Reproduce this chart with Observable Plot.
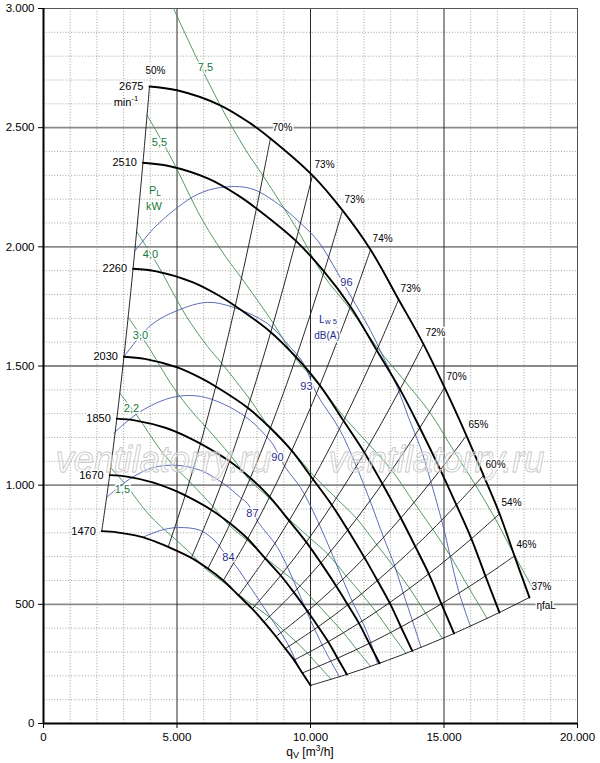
<!DOCTYPE html>
<html>
<head>
<meta charset="utf-8">
<script src="https://cdn.jsdelivr.net/npm/d3@7"></script>
<script src="https://cdn.jsdelivr.net/npm/@observablehq/plot@0.6"></script>
<style>
  html, body { margin: 0; padding: 0; background: #fff; }
</style>
</head>
<body>
<div id="chart"></div>
<script>
// ---------- axes ----------
const qTicks = [0, 5000, 10000, 15000, 20000];
const pTicks = [0, 500, 1000, 1500, 2000, 2500, 3000];

// ---------- speed curves (rpm), points on each efficiency line ----------
const speeds = [1470, 1670, 1850, 2030, 2260, 2510, 2675];
const effLabels = ["50%", "", "", "", "70%", "73%", "73%", "74%", "73%", "72%", "70%", "65%", "60%", "54%", "46%", "37%"];

const q2675 = [3970, 5000, 6600, 7750, 8500, 10075, 11200, 12250, 13300, 14230, 15020, 15840, 16480, 17080, 17640, 18200];
const p2675 = [2673, 2657, 2595, 2518, 2455, 2300, 2153, 1988, 1779, 1592, 1410, 1208, 1041, 880, 703, 529];
const q2510 = [3725, 4692, 6193, 7272, 7976, 9454, 10509, 11494, 12480, 13352, 14094, 14863, 15464, 16026, 16552, 17077];
const p2510 = [2353, 2339, 2285, 2217, 2161, 2025, 1896, 1750, 1566, 1402, 1241, 1064, 917, 775, 619, 466];
const q2260 = [3354, 4224, 5576, 6548, 7181, 8512, 9462, 10350, 11237, 12022, 12690, 13383, 13923, 14430, 14903, 15377];
const p2260 = [1908, 1897, 1852, 1797, 1752, 1642, 1537, 1419, 1270, 1136, 1006, 862, 743, 628, 502, 378];
const q2030 = [3013, 3794, 5009, 5881, 6451, 7646, 8499, 9296, 10093, 10799, 11398, 12021, 12506, 12962, 13387, 13812];
const p2030 = [1539, 1530, 1494, 1450, 1414, 1325, 1240, 1145, 1025, 917, 812, 696, 600, 507, 405, 305];
const q1850 = [2746, 3458, 4565, 5360, 5879, 6968, 7746, 8472, 9198, 9841, 10388, 10955, 11397, 11812, 12200, 12587];
const p1850 = [1279, 1271, 1241, 1204, 1174, 1100, 1030, 951, 851, 761, 674, 578, 498, 421, 336, 253];
const q1670 = [2479, 3122, 4120, 4838, 5307, 6290, 6992, 7648, 8303, 8884, 9377, 9889, 10289, 10663, 11013, 11362];
const p1670 = [1042, 1036, 1011, 981, 957, 896, 839, 775, 693, 621, 550, 471, 406, 343, 274, 206];
const q1470 = [2182, 2748, 3627, 4259, 4671, 5537, 6155, 6732, 7309, 7820, 8254, 8705, 9056, 9386, 9694, 10002];
const p1470 = [807, 802, 784, 760, 741, 695, 650, 600, 537, 481, 426, 365, 314, 266, 212, 160];

// ---------- shaft power lines P_L (kW) ----------
const powerLevels = ["1,5", "2,2", "3,0", "4,0", "5,5", "7,5"];
const pl15q = [2516, 3072, 3861, 4430, 4809, 5584, 6124, 6707, 7319, 7908, 8456, 9000, 9456, 9889, 10321, 10776];
const pl15p = [1074, 1003, 888, 823, 786, 706, 644, 596, 539, 492, 447, 390, 343, 295, 241, 185];
const pl22q = [2858, 3489, 4387, 5034, 5466, 6342, 6960, 7620, 8315, 8983, 9608, 10227, 10743, 11233, 11728, 12245];
const pl22p = [1385, 1294, 1147, 1063, 1015, 911, 831, 769, 695, 635, 577, 504, 442, 381, 311, 240];
const pl30q = [3170, 3869, 4865, 5582, 6058, 7033, 7716, 8450, 9220, 9962, 10655, 11340, 11912, 12456, 13004, 13577];
const pl30p = [1704, 1591, 1410, 1306, 1247, 1121, 1022, 946, 855, 780, 710, 619, 544, 468, 382, 294];
const pl40q = [3489, 4259, 5354, 6143, 6670, 7743, 8493, 9300, 10149, 10966, 11729, 12484, 13113, 13712, 14311, 14942];
const pl40p = [2064, 1927, 1708, 1582, 1512, 1358, 1238, 1146, 1036, 945, 860, 750, 659, 567, 463, 357];
const pl55q = [3879, 4736, 5954, 6832, 7416, 8609, 9445, 10344, 11288, 12199, 13039, 13877, 14578, 15249, 15918, 16614];
const pl55p = [2552, 2383, 2112, 1957, 1869, 1679, 1531, 1417, 1282, 1170, 1063, 927, 815, 701, 572, 441];
const pl75q = [4869, 5690, 6603, 7575, 8224, 9545, 10472, 11468, 12514, 13522, 14460, 15390, 16168, 16907, 17649, 18313];
const pl75p = [3000, 2803, 2597, 2406, 2298, 2065, 1882, 1742, 1575, 1438, 1307, 1140, 1002, 862, 704, 571];
const powerLabelQ = [2959, 3296, 3633, 4007, 4344, 6067];
const powerLabelP = [982, 1322, 1628, 1968, 2438, 2753];

// ---------- sound power lines Lw5 dB(A) ----------
const soundLevels = ["84", "87", "90", "93", "96"];
const lw84q = [3708, 4382, 5018, 5880, 6516, 6704, 7190, 7752, 8501, 9138, 9500];
const lw84p = [781, 810, 822, 810, 755, 726, 663, 571, 445, 336, 248];
const lw87q = [2360, 3258, 4120, 5018, 5880, 6741, 7378, 7640, 8052, 8763, 9363, 9887, 10486, 11085];
const lw87p = [948, 1028, 1074, 1083, 1062, 1007, 948, 923, 843, 739, 600, 462, 319, 196];
const lw90q = [2622, 3520, 4569, 5318, 6067, 7003, 7752, 8314, 8614, 9063, 9625, 10261, 10861, 11497, 12134, 12509];
const lw90p = [1217, 1301, 1360, 1376, 1368, 1326, 1271, 1209, 1167, 1074, 990, 852, 697, 529, 378, 250];
const lw93q = [3013, 4007, 5018, 6142, 7116, 8389, 9250, 9737, 10224, 11085, 11719, 12228, 12737, 13149, 13471, 13819, 14142];
const lw93p = [1539, 1670, 1733, 1767, 1746, 1678, 1578, 1511, 1385, 1235, 1079, 935, 781, 663, 548, 431, 319];
const lw96q = [3445, 4120, 5018, 5767, 6629, 7752, 8763, 9512, 10261, 11010, 11385, 12246, 12733, 13257, 13669, 14119, 14493, 14943, 15242, 15542, 15991];
const lw96p = [1985, 2077, 2165, 2220, 2249, 2245, 2182, 2111, 2027, 1892, 1817, 1649, 1536, 1410, 1284, 1158, 1020, 839, 697, 558, 407];
const soundLabelQ = [6928, 7827, 8763, 9849, 11347];
const soundLabelP = [697, 881, 1116, 1414, 1850];

// ---------- annotation anchors ----------
const watermarkQ = [4494, 14718];
const watermarkP = [1104, 1104];

// ---------- build tables ----------
const FONT = "'Liberation Sans', Arial, Helvetica, sans-serif";
const fmt = d => d3.format(",")(d).replace(/,/g, ".");

const speedQ = [q1470, q1670, q1850, q2030, q2260, q2510, q2675];
const speedP = [p1470, p1670, p1850, p2030, p2260, p2510, p2675];
const speedRows = speeds.flatMap((n, k) => speedQ[k].map((q, i) => ({q, p: speedP[k][i], key: n})));
const effRows = effLabels.flatMap((lab, i) => lab ? speeds.map((n, k) => ({q: speedQ[k][i], p: speedP[k][i], key: i})) : []);
const effLabelRows = effLabels.map((lab, i) => ({q: q2675[i], p: p2675[i], lab})).filter((d, i) => d.lab && i > 0);
const speedLabelRows = speeds.map((n, k) => ({q: speedQ[k][0], p: speedP[k][0], lab: String(n)}));

const powerQ = [pl15q, pl22q, pl30q, pl40q, pl55q, pl75q];
const powerP = [pl15p, pl22p, pl30p, pl40p, pl55p, pl75p];
const greenRows = powerLevels.flatMap((lv, k) => powerQ[k].map((q, i) => ({q, p: powerP[k][i], key: lv})));
const greenLabelRows = powerLevels.map((lv, k) => ({q: powerLabelQ[k], p: powerLabelP[k], lab: lv}));

const soundQ = [lw84q, lw87q, lw90q, lw93q, lw96q];
const soundP = [lw84p, lw87p, lw90p, lw93p, lw96p];
const blueRows = soundLevels.flatMap((lv, k) => soundQ[k].map((q, i) => ({q, p: soundP[k][i], key: lv})));
const blueLabelRows = soundLevels.map((lv, k) => ({q: soundLabelQ[k], p: soundLabelP[k], lab: lv}));

const minorQ = d3.range(1000, 20000, 1000).filter(v => v % 5000 !== 0);
const minorP = d3.range(100, 3000, 100).filter(v => v % 500 !== 0);
const majorQ = [5000, 10000, 15000];
const majorP = [500, 1000, 1500, 2000, 2500];

const green = "#3f8f52", greenText = "#17793a";
const blue = "#4b5cae", blueText = "#1f2f8c";

const plot = Plot.plot({
  width: 600,
  height: 763,
  marginLeft: 43,
  marginRight: 23,
  marginTop: 8,
  marginBottom: 40,
  style: {fontFamily: FONT, fontSize: "11.5px", background: "#fff", color: "#000"},
  x: {domain: [0, 20000], ticks: qTicks, tickFormat: fmt, label: null, tickSize: 5},
  y: {domain: [0, 3000], ticks: pTicks, tickFormat: fmt, label: null, tickSize: 5},
  marks: [
    Plot.ruleX(minorQ, {stroke: "#8c8c8c", strokeWidth: 0.8, strokeDasharray: "1,1.8"}),
    Plot.ruleY(minorP, {stroke: "#8c8c8c", strokeWidth: 0.8, strokeDasharray: "1,1.8"}),
    Plot.ruleY(majorP, {stroke: "#8a8a8a", strokeWidth: 1.8}),
    Plot.ruleX(majorQ, {stroke: "#2a2a2a", strokeWidth: 1}),
    Plot.ruleX([20000], {stroke: "#555", strokeWidth: 1}),
    Plot.ruleY([3000], {stroke: "#555", strokeWidth: 1}),
    Plot.line(greenRows, {x: "q", y: "p", z: "key", stroke: green, strokeWidth: 0.9, curve: "catmull-rom", clip: true}),
    Plot.line(blueRows, {x: "q", y: "p", z: "key", stroke: blue, strokeWidth: 0.9, curve: "catmull-rom", clip: true}),
    Plot.line(effRows, {x: "q", y: "p", z: "key", stroke: "#111", strokeWidth: 0.9, curve: "catmull-rom"}),
    Plot.line(speedRows, {x: "q", y: "p", z: "key", stroke: "#000", strokeWidth: 1.9, curve: "catmull-rom"}),
    Plot.text(watermarkQ.map((q, i) => ({q, p: watermarkP[i]})), {
      x: "q", y: "p", text: () => "ventilatorry.ru", fontSize: 36, fontStyle: "italic",
      fill: "#fff", fillOpacity: 0.35, stroke: "#bdbdbd", strokeWidth: 0.9
    }),
    Plot.text(effLabelRows, {x: "q", y: "p", text: "lab", textAnchor: "start", dx: 2, dy: -11,
      fontSize: 10, fill: "#000", stroke: "#fff", strokeWidth: 3}),
    Plot.text([{q: q2675[0], p: p2675[0], lab: effLabels[0]}],
      {x: "q", y: "p", text: "lab", textAnchor: "middle", dx: 6, dy: -16, fontSize: 10, fill: "#000", stroke: "#fff", strokeWidth: 3}),
    Plot.text([{q: q2675[15], p: p2675[15], lab: "ηfaL"}], {x: "q", y: "p", text: "lab", textAnchor: "start", dx: 7, dy: 8,
      fontSize: 10, fill: "#000", stroke: "#fff", strokeWidth: 3}),
    Plot.text(speedLabelRows, {x: "q", y: "p", text: "lab", textAnchor: "end", dx: -6,
      fontSize: 11, fill: "#000", stroke: "#fff", strokeWidth: 3}),
    Plot.text(greenLabelRows, {x: "q", y: "p", text: "lab", fontSize: 11, fill: greenText, stroke: "#fff", strokeWidth: 3}),
    Plot.text(blueLabelRows, {x: "q", y: "p", text: "lab", fontSize: 11, fill: blueText, stroke: "#fff", strokeWidth: 3}),
    Plot.ruleX([0], {stroke: "#000", strokeWidth: 2}),
    Plot.ruleY([0], {stroke: "#000", strokeWidth: 2})
  ]
});
document.getElementById("chart").append(plot);

// ---------- labels with sub/superscripts ----------
const X = plot.scale("x"), Y = plot.scale("y");
const svg = d3.select(plot);
function rich(x, y, parts, fill, size, halo) {
  const t = svg.append("text")
    .attr("x", x).attr("y", y)
    .attr("fill", fill)
    .attr("font-family", FONT)
    .attr("font-size", size)
    .attr("text-anchor", "middle")
    .attr("dominant-baseline", "central");
  if (halo) t.attr("stroke", "#fff").attr("stroke-width", 3).attr("paint-order", "stroke").attr("stroke-linejoin", "round");
  parts.forEach(([s, dy, scale]) => t.append("tspan").attr("dy", dy).attr("font-size", size * (scale || 1)).text(s));
}
rich(X.apply(4194), Y.apply(2236), [["P", 0], ["L", 3, 0.75]], greenText, 11, true);
rich(X.apply(4157), Y.apply(2169), [["kW", 0]], greenText, 11, true);
rich(X.apply(10673), Y.apply(1695), [["L", 0], ["w 5", 2, 0.7]], blueText, 11, true);
rich(X.apply(10636), Y.apply(1628), [["dB(A)", 0]], blueText, 10, true);
rich(X.apply(3108), Y.apply(2606), [["min", 0], ["-1", -4, 0.7]], "#000", 11, true);
rich(X.apply(10000), 752, [["q", 0], ["V", 3, 0.75], [" [m", -3], ["3", -4, 0.7], ["/h]", 4]], "#000", 12, false);
</script>
</body>
</html>
